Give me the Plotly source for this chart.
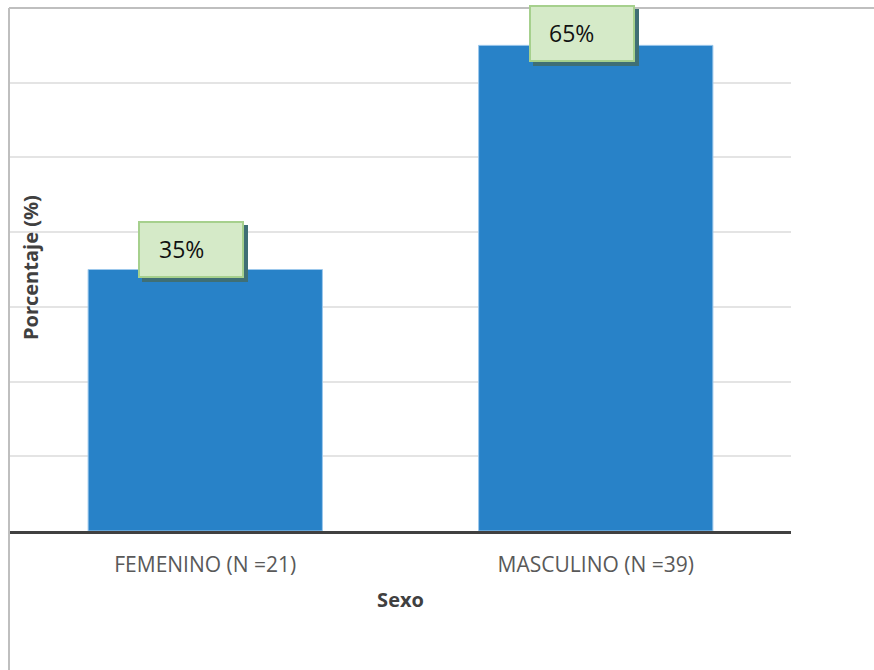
import plotly.graph_objects as go

# Distribution of the sample by sex
categorias = ["FEMENINO (N =21)", "MASCULINO (N =39)"]
porcentajes = [35, 65]
etiquetas = ["35%", "65%"]

W, H = 874, 670
M_L, M_R, M_T, M_B = 10, 83, 8, 139
Y_MAX = 70
PLOT_H = H - M_T - M_B
PLOT_W = W - M_L - M_R

fig = go.Figure()
fig.add_trace(go.Bar(
    x=categorias,
    y=porcentajes,
    marker=dict(color="#2882c8", line=dict(color="#9cc8ec", width=1)),
    width=0.6,
    hoverinfo="skip",
))

# Data labels: shadow, green callout box, then the value text.
# The callout floats ~20px above the bar top but is kept inside the chart.
BOX_H = 57
for cat, val, txt in zip(categorias, porcentajes, etiquetas):
    top_px = M_T + (Y_MAX - val) / Y_MAX * PLOT_H
    lift = min(20, top_px - (BOX_H / 2 + 5))
    fig.add_annotation(x=cat, y=val, xref="x", yref="y", text="", showarrow=False,
                       width=104, height=55, bgcolor="#3f6f75", borderwidth=0,
                       xshift=-10, yshift=lift - 4)
    fig.add_annotation(x=cat, y=val, xref="x", yref="y", text="", showarrow=False,
                       width=102, height=53, bgcolor="#d5eac8", bordercolor="#a6d08d",
                       borderwidth=2, borderpad=0, xshift=-14, yshift=lift)
    fig.add_annotation(x=cat, y=val, xref="x", yref="y", text=txt, showarrow=False,
                       font=dict(family="Open Sans", size=23, color="#111111"),
                       xshift=-24, yshift=lift + 1)

# Y axis title sits over the gridlines, near the left edge
fig.add_annotation(xref="paper", yref="paper", x=(30 - M_L) / PLOT_W, y=(531 - 268) / PLOT_H,
                   xanchor="center", yanchor="middle",
                   text="<b>Porcentaje (%)</b>", textangle=-90, showarrow=False,
                   font=dict(family="Open Sans", size=20, color="#404040"))

# Chart frame: left and top edges
fig.add_shape(type="line", xref="paper", yref="paper", x0=-1 / PLOT_W, x1=(W - M_L) / PLOT_W,
              y0=1, y1=1, line=dict(color="#bfbfbf", width=2), layer="above")
fig.add_shape(type="line", xref="paper", yref="paper", x0=-1 / PLOT_W, x1=-1 / PLOT_W,
              y0=1, y1=-(M_B + 5) / PLOT_H, line=dict(color="#bfbfbf", width=2), layer="above")

fig.update_layout(
    width=W, height=H,
    margin=dict(l=M_L, r=M_R, t=M_T, b=M_B, pad=0),
    paper_bgcolor="white", plot_bgcolor="white",
    showlegend=False,
    bargap=0.4,
    xaxis=dict(
        showline=True, linecolor="#404040", linewidth=3,
        showgrid=False, ticks="",
        tickfont=dict(family="Open Sans", size=21, color="#595959"),
        ticklabelstandoff=13,
        title=dict(text="<b>Sexo</b>", font=dict(family="Open Sans", size=20, color="#404040"), standoff=16),
        fixedrange=True,
    ),
    yaxis=dict(
        range=[0, Y_MAX], dtick=10,
        showgrid=True, gridcolor="#e4e4e4", gridwidth=2,
        showticklabels=False, zeroline=False, ticks="",
        fixedrange=True,
    ),
)

fig.write_html("out.html")
